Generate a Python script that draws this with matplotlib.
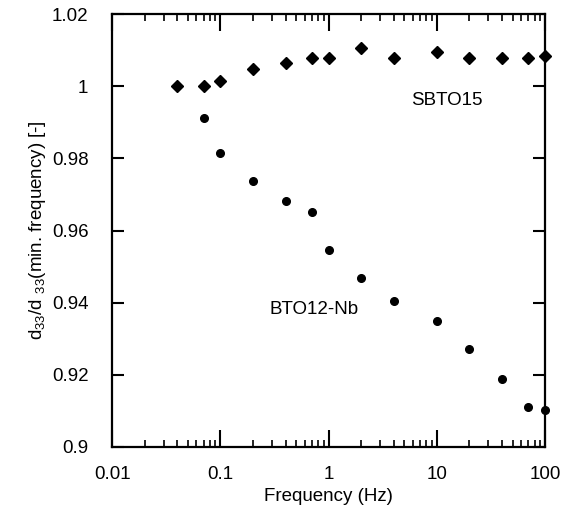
import matplotlib
matplotlib.use('Agg')
import matplotlib.pyplot as plt
from matplotlib.ticker import LogLocator, FixedLocator, FuncFormatter

plt.rcParams['font.family'] = ['Liberation Sans', 'DejaVu Sans']
plt.rcParams['mathtext.fontset'] = 'custom'
plt.rcParams['mathtext.rm'] = 'Liberation Sans'
plt.rcParams['mathtext.it'] = 'Liberation Sans'

# SBTO15 (diamonds)
freq_sbto = [0.04, 0.07, 0.1, 0.2, 0.4, 0.7, 1, 2, 4, 10, 20, 40, 70, 100]
d33_sbto = [1.0, 1.0, 1.0014, 1.0049, 1.0065, 1.0078, 1.0078, 1.0107,
            1.0078, 1.0094, 1.0078, 1.0078, 1.0078, 1.0085]

# BTO12-Nb (circles)
freq_bto = [0.07, 0.1, 0.2, 0.4, 0.7, 1, 2, 4, 10, 20, 40, 70, 100]
d33_bto = [0.9913, 0.9815, 0.9737, 0.9681, 0.9652, 0.9546, 0.9468,
           0.9405, 0.9349, 0.9272, 0.9187, 0.9110, 0.9103]

y_ticks = [0.9, 0.92, 0.94, 0.96, 0.98, 1.0, 1.02]
x_ticks = [0.01, 0.1, 1, 10, 100]

fig = plt.figure(figsize=(5.69, 5.27), dpi=100)
ax = fig.add_axes([0.197, 0.152, 0.761, 0.821])

ax.plot(freq_sbto, d33_sbto, 'D', color='black', markersize=6.5, clip_on=False)
ax.plot(freq_bto, d33_bto, 'o', color='black', markersize=5.5, clip_on=False)

ax.set_xscale('log')
ax.set_xlim(0.01, 100)
ax.set_ylim(0.9, 1.02)

ax.xaxis.set_major_locator(FixedLocator(x_ticks))
ax.xaxis.set_minor_locator(LogLocator(base=10, subs=range(2, 10), numticks=20))
ax.xaxis.set_major_formatter(FuncFormatter(lambda v, p: '%g' % v))
ax.yaxis.set_major_locator(FixedLocator(y_ticks))
ax.yaxis.set_major_formatter(FuncFormatter(lambda v, p: '%g' % round(v, 2)))

ax.tick_params(axis='x', which='major', direction='in', length=12, width=1.5,
               top=True, labelsize=13.5, pad=13.5)
ax.tick_params(axis='x', which='minor', direction='in', length=5, width=1.2, top=True)
ax.tick_params(axis='y', which='major', direction='in', length=8.5, width=1.5,
               right=True, labelsize=13.5, pad=17)
for s in ax.spines.values():
    s.set_linewidth(1.6)

# curve labels
ax.text(12.5, 0.9962, 'SBTO15', fontsize=13.5, ha='center', va='center')
ax.text(0.73, 0.938, 'BTO12-Nb', fontsize=13.5, ha='center', va='center')

ax.set_xlabel('Frequency (Hz)', fontsize=13.5, labelpad=4)
ax.set_ylabel(r'd$_{33}$/d $_{33}$(min. frequency) [-]', fontsize=13.5, labelpad=3)

fig.savefig('out.png', dpi=100)
